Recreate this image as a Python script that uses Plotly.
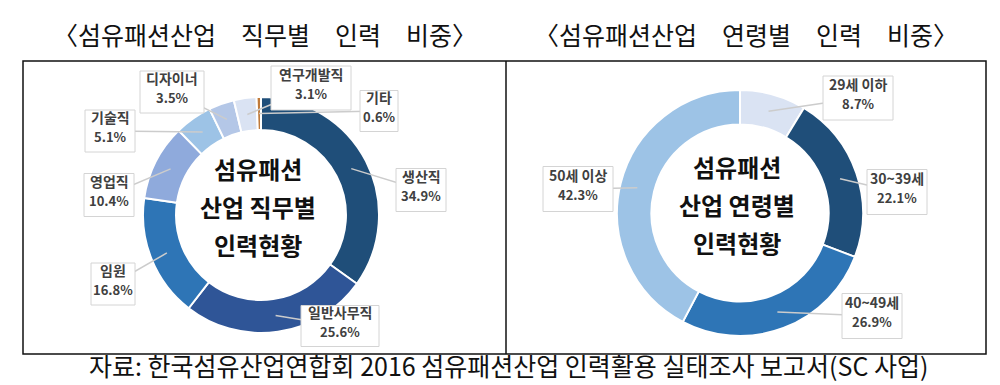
import numpy as np
import plotly.graph_objects as go

# ---- data ----
job_labels = ["생산직", "일반사무직", "임원", "영업직", "기술직", "디자이너", "연구개발직", "기타"]
job_values = [34.9, 25.6, 16.8, 10.4, 5.1, 3.5, 3.1, 0.6]
age_labels = ["29세 이하", "30~39세", "40~49세", "50세 이상"]
age_values = [8.7, 22.1, 26.9, 42.3]

title_left = "〈섬유패션산업\u3000직무별\u3000인력\u3000비중〉"
title_right = "〈섬유패션산업\u3000연령별\u3000인력\u3000비중〉"
center_left = ["섬유패션", "산업 직무별", "인력현황"]
center_right = ["섬유패션", "산업 연령별", "인력현황"]
source_text = "자료: 한국섬유산업연합회 2016 섬유패션산업 인력활용 실태조사 보고서(SC 사업)"

# ---- style / layout ----
W, H = 1000, 385
FONT = "Noto Sans CJK KR"
job_colors = ["#1f4e79", "#2f5597", "#2e75b6", "#8faadc", "#9dc3e6", "#b4c7e7", "#dae3f3", "#c07a3a"]
age_colors = ["#dae3f3", "#1f4e79", "#2e75b6", "#9dc3e6"]
HOLE = 0.72
SHIFT = 0.36  # vertical correction (em) for CJK glyph centring

left_geo = dict(cx=253, cy=207, r=118)
right_geo = dict(cx=732, cy=205, r=123)

# label boxes: centre x, centre y, width, height (pixels)
job_boxes = [(413, 182, 50, 43), (332, 318, 78, 41), (105, 276, 44, 42), (101, 187, 50, 43),
             (102, 123, 50, 42), (164, 84, 64, 42), (303, 80, 80, 44), (371, 103, 38, 41)]
age_boxes = [(850, 90, 70, 44), (889, 184, 60, 45), (864, 308, 60, 45), (570, 181, 70, 45)]


def px(x, y):
    return x / W, 1 - y / H


def domain(g):
    return dict(x=[(g["cx"] - g["r"]) / W, (g["cx"] + g["r"]) / W],
                y=[1 - (g["cy"] + g["r"]) / H, 1 - (g["cy"] - g["r"]) / H])


def tips(values, g):
    v = np.array(values, dtype=float)
    cum = np.cumsum(v) - v / 2
    ang = cum / v.sum() * 2 * np.pi
    rm = g["r"] * (1 + HOLE) / 2
    return [(g["cx"] + rm * np.sin(a), g["cy"] - rm * np.cos(a)) for a in ang]


def text_ann(x, y, text, size, color="#111111", bold=False):
    xx, yy = px(x, y - SHIFT * size)
    return dict(x=xx, y=yy, xref="paper", yref="paper", showarrow=False,
                xanchor="center", yanchor="middle",
                text=f"<b>{text}</b>" if bold else text,
                font=dict(family=FONT, size=size, color=color))


fig = go.Figure()
for labels, values, colors, g in [(job_labels, job_values, job_colors, left_geo),
                                  (age_labels, age_values, age_colors, right_geo)]:
    fig.add_trace(go.Pie(labels=labels, values=values, hole=HOLE, sort=False,
                         direction="clockwise", rotation=0, textinfo="none",
                         hoverinfo="label+percent",
                         marker=dict(colors=colors, line=dict(color="white", width=2)),
                         domain=domain(g), showlegend=False))

ann = []
lines_sh = []
boxes_sh = []
for labels, values, boxes, g in [(job_labels, job_values, job_boxes, left_geo),
                                 (age_labels, age_values, age_boxes, right_geo)]:
    for lab, val, (lx, ly, bw, bh), (tx, ty) in zip(labels, values, boxes, tips(values, g)):
        x0, y0 = px(tx, ty)
        x1, y1 = px(lx, ly)
        lines_sh.append(dict(type="line", xref="paper", yref="paper", layer="above",
                             x0=x0, y0=y0, x1=x1, y1=y1,
                             line=dict(color="#cccccc", width=1.5)))
        bx0, by0 = px(lx - bw / 2, ly + bh / 2)
        bx1, by1 = px(lx + bw / 2, ly - bh / 2)
        boxes_sh.append(dict(type="rect", xref="paper", yref="paper", layer="above",
                             x0=bx0, y0=by0, x1=bx1, y1=by1, fillcolor="white",
                             line=dict(color="#d4d4d4", width=1)))
        ann.append(text_ann(lx, ly - 9, lab, 14, "#404040", True))
        ann.append(text_ann(lx, ly + 10, f"{val:.1f}%", 13, "#404040", True))

# centre texts
for lines, g in [(center_left, left_geo), (center_right, right_geo)]:
    for i, t in enumerate(lines):
        ann.append(text_ann(g["cx"] - 3, g["cy"] - 38 + 38 * i, t, 24, "#111111", True))

# titles and source
ann.append(text_ann(257, 35, title_left, 25))
ann.append(text_ann(738, 35, title_right, 25))
ann.append(text_ann(500, 366, source_text, 25))

frame = [
    dict(type="rect", xref="paper", yref="paper", x0=15 / W, x1=978 / W,
         y0=1 - 346 / H, y1=1 - 53 / H, line=dict(color="#111111", width=1.5)),
    dict(type="line", xref="paper", yref="paper", x0=498 / W, x1=498 / W,
         y0=1 - 346 / H, y1=1 - 53 / H, line=dict(color="#111111", width=1.5)),
]

fig.update_layout(width=W, height=H, margin=dict(l=0, r=0, t=0, b=0),
                  paper_bgcolor="white", plot_bgcolor="white",
                  annotations=ann, shapes=lines_sh + boxes_sh + frame,
                  font=dict(family=FONT))

fig.write_html("out.html")
